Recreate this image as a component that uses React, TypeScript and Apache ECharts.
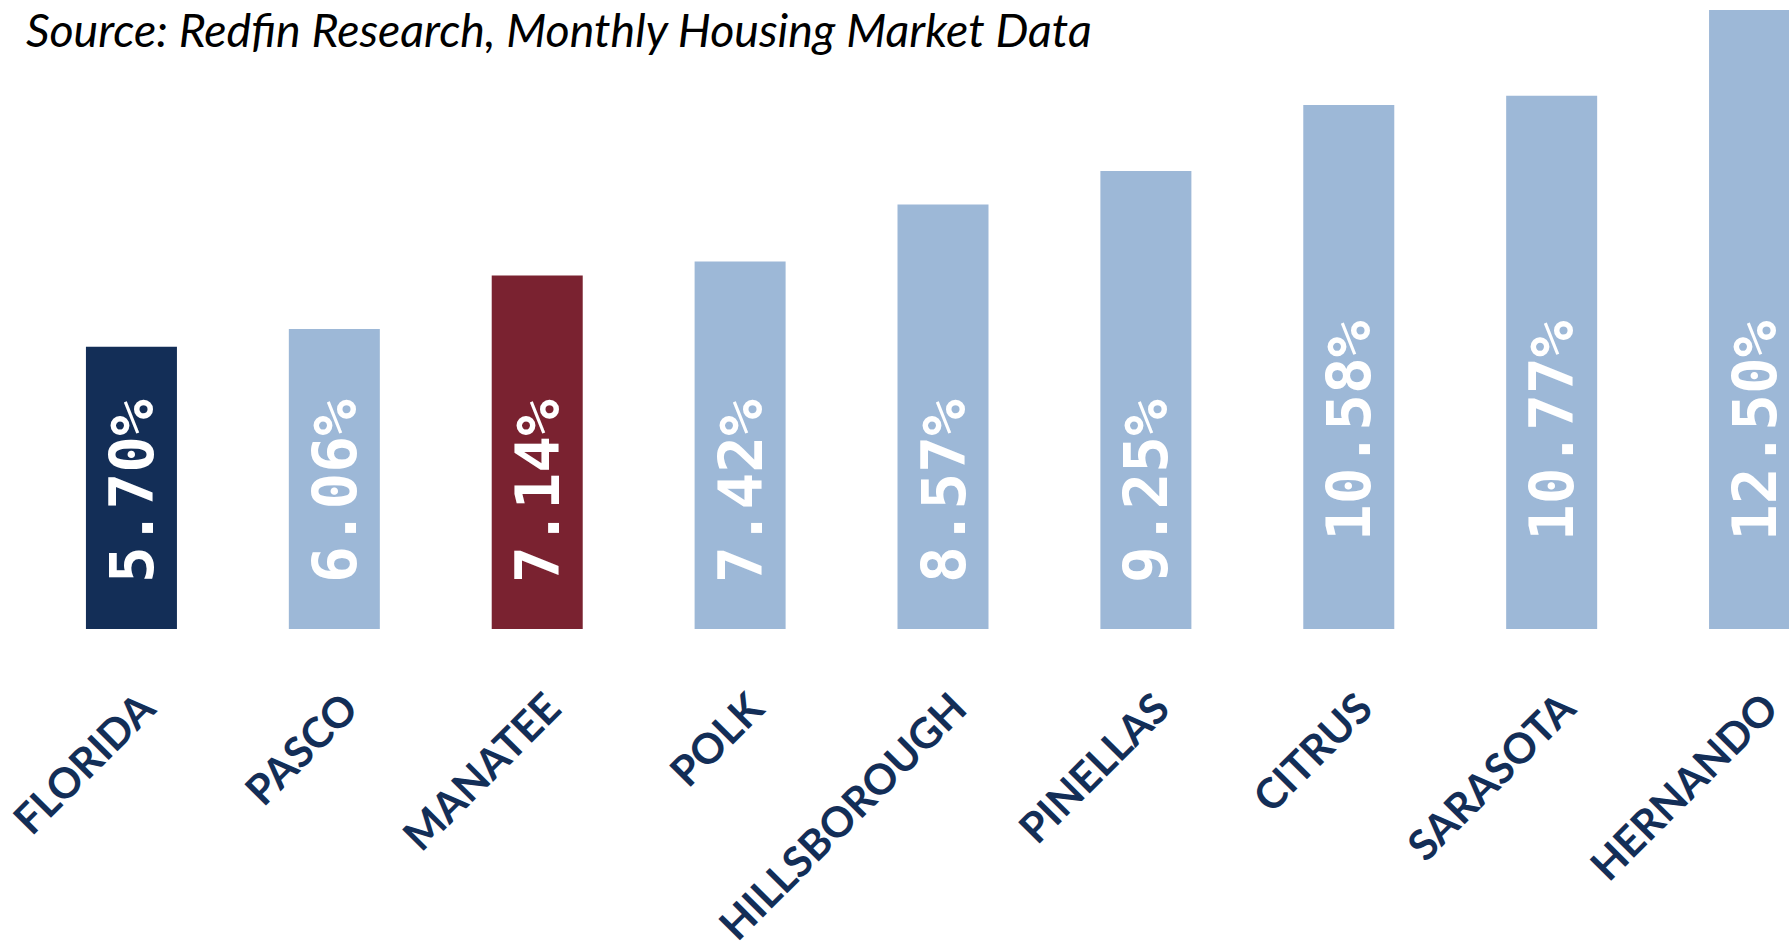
import React, { useEffect, useRef } from "react";
import * as echarts from "echarts";

const categories = [
  "FLORIDA",
  "PASCO",
  "MANATEE",
  "POLK",
  "HILLSBOROUGH",
  "PINELLAS",
  "CITRUS",
  "SARASOTA",
  "HERNANDO",
];
const values = [5.7, 6.06, 7.14, 7.42, 8.57, 9.25, 10.58, 10.77, 12.5];
const sourceText = "Source: Redfin Research, Monthly Housing Market Data";

const NAVY = "#132E57";
const MAROON = "#7A2230";
const LIGHT = "#9DB8D7";

export default function App() {
  const ref = useRef<HTMLDivElement>(null);
  useEffect(() => {
    if (!ref.current) return;
    const chart = echarts.init(ref.current, undefined, { renderer: "svg" });
    const fmt = (v: number) => v.toFixed(2) + "%";
    chart.setOption({
      animation: false,
      backgroundColor: "#ffffff",
      title: {
        text: sourceText,
        left: 21,
        top: 0,
        textStyle: {
          fontFamily: "Lato",
          fontStyle: "italic",
          fontWeight: "normal",
          fontSize: 46.5,
          color: "#000000",
        },
      },
      grid: {
        left: 30,
        right: 0,
        top: 10,
        bottom: 319,
        containLabel: false,
        outerBoundsMode: "none",
      },
      xAxis: {
        type: "category",
        data: categories,
        axisLine: { show: false },
        axisTick: { show: false },
        axisLabel: {
          interval: 0,
          rotate: 45,
          margin: 56,
          verticalAlign: "top",
          fontFamily: "Lato",
          fontWeight: "bold",
          fontSize: 42,
          color: NAVY,
        },
      },
      yAxis: { type: "value", min: 0, max: 12.5, show: false },
      series: [
        {
          type: "bar",
          barWidth: 91,
          itemStyle: {
            color: (p: any) =>
              p.name === "FLORIDA" ? NAVY : p.name === "MANATEE" ? MAROON : LIGHT,
          },
          label: {
            show: true,
            position: "insideBottom",
            rotate: 90,
            align: "left",
            verticalAlign: "middle",
            formatter: (p: any) => fmt(p.value),
            fontFamily: "DejaVu Sans Mono",
            fontWeight: "bold",
            fontSize: 61,
            color: "#ffffff",
          },
          data: values.map((v) => ({
            value: v,
            label: { distance: fmt(v).length > 5 ? 88 : 46 },
          })),
        },
      ],
    });
    return () => chart.dispose();
  }, []);
  return (
    <div
      style={{
        position: "absolute",
        left: 0,
        top: 0,
        width: 1789,
        height: 948,
        overflow: "hidden",
      }}
    >
      <div ref={ref} style={{ width: 1856, height: 948 }} />
    </div>
  );
}
